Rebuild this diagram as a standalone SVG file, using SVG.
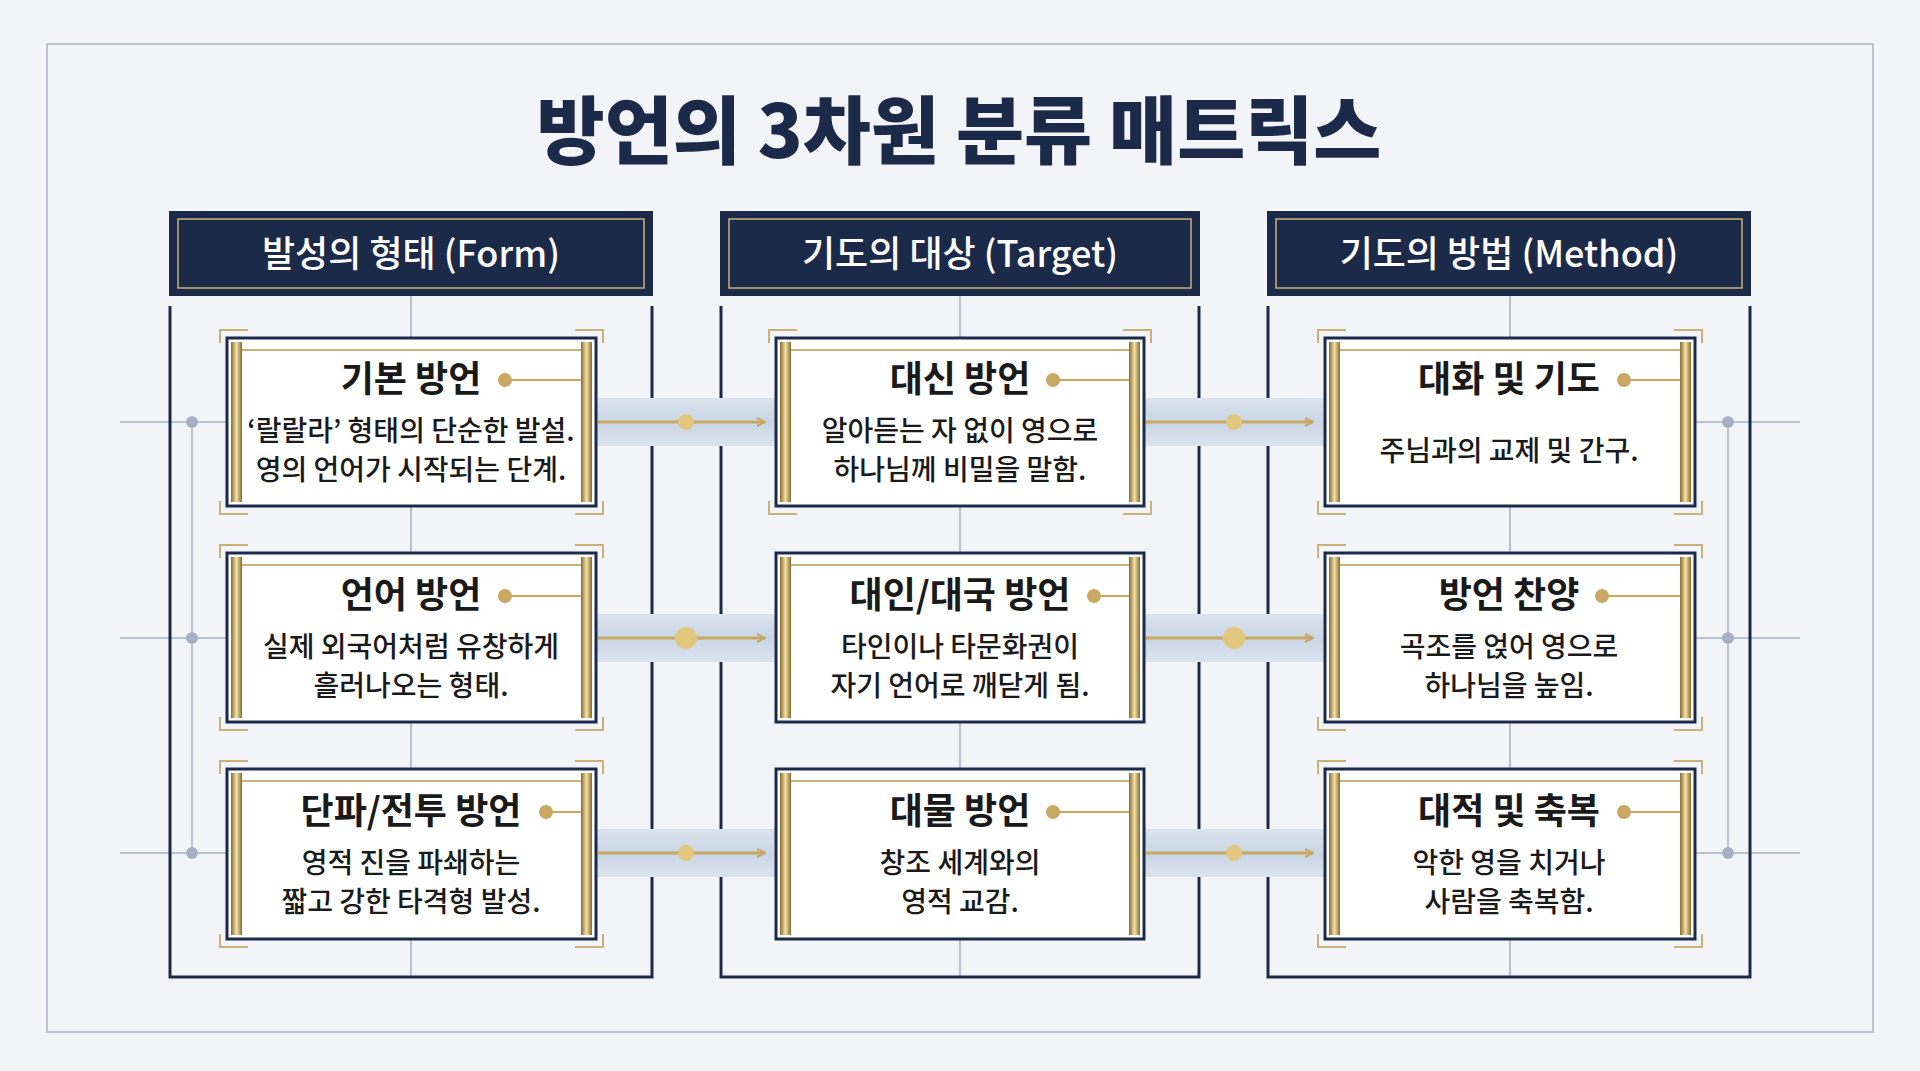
<svg xmlns="http://www.w3.org/2000/svg" width="1920" height="1071" viewBox="0 0 1920 1071">
<defs>
<linearGradient id="gold" x1="0" y1="0" x2="1" y2="0">
<stop offset="0" stop-color="#8a6a2c"/><stop offset="0.5" stop-color="#f3e2a8"/><stop offset="1" stop-color="#8a6a2c"/>
</linearGradient>
<linearGradient id="band" x1="0" y1="0" x2="0" y2="1">
<stop offset="0" stop-color="#dbe4ee"/><stop offset="0.5" stop-color="#c9d6e4"/><stop offset="1" stop-color="#dbe4ee"/>
</linearGradient>
<marker id="ah" markerWidth="10" markerHeight="10" refX="9" refY="5" orient="auto" markerUnits="userSpaceOnUse"><path d="M1,1 L9,5 L1,9" fill="none" stroke="#c9a864" stroke-width="2"/></marker>
</defs>
<style>
.hd{fill:#1c2a4a}
.hdi{fill:none;stroke:#c9b27a;stroke-width:1.5}
.ht{font-family:"Noto Sans CJK KR","Noto Sans",sans-serif;font-size:36px;fill:#fff;text-anchor:middle;font-weight:500}
.pl{fill:none;stroke:#1c2a4a;stroke-width:3}
.card{fill:#fff;stroke:#1c2a4a;stroke-width:3}
.ct{font-family:"Noto Sans CJK KR","Noto Sans",sans-serif;font-size:36px;font-weight:700;fill:#1a1a1a;text-anchor:middle}
.cd{font-family:"Noto Sans CJK KR","Noto Sans",sans-serif;font-size:28px;font-weight:500;fill:#1a1a1a;text-anchor:middle}
.br{fill:none;stroke:#c9b27a;stroke-width:2}
.gl{stroke:#a5b1c2;stroke-width:1.5}
</style>
<rect width="1920" height="1071" fill="#f2f4f7"/>
<rect x="47" y="44" width="1826" height="988" fill="none" stroke="#b9c2cd" stroke-width="2"/>
<text x="959" y="158" font-family="Noto Sans CJK KR,Noto Sans,sans-serif" font-size="74" font-weight="900" fill="#1c2a4a" text-anchor="middle">방언의 3차원 분류 매트릭스</text>

<g id="guides">
<line class="gl" x1="120" y1="422" x2="230" y2="422"/><line class="gl" x1="120" y1="638" x2="230" y2="638"/><line class="gl" x1="120" y1="853" x2="230" y2="853"/>
<line class="gl" x1="192" y1="422" x2="192" y2="853"/>
<circle cx="192" cy="422" r="6" fill="#a5b1c2"/><circle cx="192" cy="638" r="6" fill="#a5b1c2"/><circle cx="192" cy="853" r="6" fill="#a5b1c2"/>
<line class="gl" x1="1695" y1="422" x2="1800" y2="422"/><line class="gl" x1="1695" y1="638" x2="1800" y2="638"/><line class="gl" x1="1695" y1="853" x2="1800" y2="853"/>
<line class="gl" x1="1728" y1="422" x2="1728" y2="853"/>
<circle cx="1728" cy="422" r="6" fill="#a5b1c2"/><circle cx="1728" cy="638" r="6" fill="#a5b1c2"/><circle cx="1728" cy="853" r="6" fill="#a5b1c2"/>
<line class="gl" x1="411" y1="296" x2="411" y2="977"/><line class="gl" x1="960" y1="296" x2="960" y2="977"/><line class="gl" x1="1510" y1="296" x2="1510" y2="977"/>
</g>

<g id="col1"><rect class="hd" x="169" y="211" width="484" height="85"/><rect class="hdi" x="178" y="219" width="466" height="69"/><text class="ht" x="411" y="267">발성의 형태 (Form)</text><path class="pl" d="M170,306 V977 H652 V306"/></g>
<g id="col2"><rect class="hd" x="720" y="211" width="480" height="85"/><rect class="hdi" x="729" y="219" width="462" height="69"/><text class="ht" x="960" y="267">기도의 대상 (Target)</text><path class="pl" d="M721,306 V977 H1199 V306"/></g>
<g id="col3"><rect class="hd" x="1267" y="211" width="484" height="85"/><rect class="hdi" x="1276" y="219" width="466" height="69"/><text class="ht" x="1509" y="267">기도의 방법 (Method)</text><path class="pl" d="M1268,306 V977 H1750 V306"/></g>

<g id="connectors">
<rect x="596" y="398" width="180" height="48" fill="url(#band)"/><rect x="596" y="614" width="180" height="48" fill="url(#band)"/><rect x="596" y="829" width="180" height="48" fill="url(#band)"/>
<rect x="1144" y="398" width="181" height="48" fill="url(#band)"/><rect x="1144" y="614" width="181" height="48" fill="url(#band)"/><rect x="1144" y="829" width="181" height="48" fill="url(#band)"/>
<g stroke="#c9a864" stroke-width="3" marker-end="url(#ah)">
<line x1="598" y1="422" x2="765" y2="422"/><line x1="598" y1="638" x2="765" y2="638"/><line x1="598" y1="853" x2="765" y2="853"/>
<line x1="1146" y1="422" x2="1313" y2="422"/><line x1="1146" y1="638" x2="1313" y2="638"/><line x1="1146" y1="853" x2="1313" y2="853"/>
</g>
<g fill="#e3c77e"><circle cx="686" cy="422" r="8"/><circle cx="686" cy="638" r="11"/><circle cx="686" cy="853" r="8"/><circle cx="1234" cy="422" r="8"/><circle cx="1234" cy="638" r="11"/><circle cx="1234" cy="853" r="8"/></g>
</g>

<g id="cards">
<g id="c11"><rect class="card" x="227" y="338" width="369" height="168"/><rect x="231" y="342" width="11" height="160" fill="url(#gold)"/><rect x="581" y="342" width="11" height="160" fill="url(#gold)"/><path class="br" d="M220,343 V330 H248 M575,330 H603 V343 M220,501 V514 H248 M575,514 H603 V501"/><line x1="242" y1="350" x2="581" y2="350" stroke="#c9b27a" stroke-width="2"/>
<text class="ct" x="411" y="392">기본 방언</text><circle cx="505" cy="380" r="7" fill="#c9a864"/><line x1="505" y1="380" x2="581" y2="380" stroke="#c9a864" stroke-width="2"/>
<text class="cd" x="411" y="441">‘랄랄라’ 형태의 단순한 발설.</text><text class="cd" x="411" y="480">영의 언어가 시작되는 단계.</text></g>
<g id="c21"><rect class="card" x="227" y="553" width="369" height="169"/><rect x="231" y="557" width="11" height="161" fill="url(#gold)"/><rect x="581" y="557" width="11" height="161" fill="url(#gold)"/><path class="br" d="M220,558 V545 H248 M575,545 H603 V558 M220,717 V730 H248 M575,730 H603 V717"/><line x1="242" y1="565" x2="581" y2="565" stroke="#c9b27a" stroke-width="2"/>
<text class="ct" x="411" y="608">언어 방언</text><circle cx="505" cy="596" r="7" fill="#c9a864"/><line x1="505" y1="596" x2="581" y2="596" stroke="#c9a864" stroke-width="2"/>
<text class="cd" x="411" y="657">실제 외국어처럼 유창하게</text><text class="cd" x="411" y="696">흘러나오는 형태.</text></g>
<g id="c31"><rect class="card" x="227" y="769" width="369" height="170"/><rect x="231" y="773" width="11" height="162" fill="url(#gold)"/><rect x="581" y="773" width="11" height="162" fill="url(#gold)"/><path class="br" d="M220,774 V761 H248 M575,761 H603 V774 M220,934 V947 H248 M575,947 H603 V934"/><line x1="242" y1="781" x2="581" y2="781" stroke="#c9b27a" stroke-width="2"/>
<text class="ct" x="411" y="824">단파/전투 방언</text><circle cx="546" cy="812" r="7" fill="#c9a864"/><line x1="546" y1="812" x2="581" y2="812" stroke="#c9a864" stroke-width="2"/>
<text class="cd" x="411" y="873">영적 진을 파쇄하는</text><text class="cd" x="411" y="912">짧고 강한 타격형 발성.</text></g>

<g id="c12"><rect class="card" x="776" y="338" width="368" height="168"/><rect x="780" y="342" width="11" height="160" fill="url(#gold)"/><rect x="1129" y="342" width="11" height="160" fill="url(#gold)"/><path class="br" d="M769,343 V330 H797 M1123,330 H1151 V343 M769,501 V514 H797 M1123,514 H1151 V501"/><line x1="791" y1="350" x2="1129" y2="350" stroke="#c9b27a" stroke-width="2"/>
<text class="ct" x="960" y="392">대신 방언</text><circle cx="1053" cy="380" r="7" fill="#c9a864"/><line x1="1053" y1="380" x2="1129" y2="380" stroke="#c9a864" stroke-width="2"/>
<text class="cd" x="960" y="441">알아듣는 자 없이 영으로</text><text class="cd" x="960" y="480">하나님께 비밀을 말함.</text></g>
<g id="c22"><rect class="card" x="776" y="553" width="368" height="169"/><rect x="780" y="557" width="11" height="161" fill="url(#gold)"/><rect x="1129" y="557" width="11" height="161" fill="url(#gold)"/><line x1="791" y1="565" x2="1129" y2="565" stroke="#c9b27a" stroke-width="2"/>
<text class="ct" x="960" y="608">대인/대국 방언</text><circle cx="1094" cy="596" r="7" fill="#c9a864"/><line x1="1094" y1="596" x2="1129" y2="596" stroke="#c9a864" stroke-width="2"/>
<text class="cd" x="960" y="657">타인이나 타문화권이</text><text class="cd" x="960" y="696">자기 언어로 깨닫게 됨.</text></g>
<g id="c32"><rect class="card" x="776" y="769" width="368" height="170"/><rect x="780" y="773" width="11" height="162" fill="url(#gold)"/><rect x="1129" y="773" width="11" height="162" fill="url(#gold)"/><line x1="791" y1="781" x2="1129" y2="781" stroke="#c9b27a" stroke-width="2"/>
<text class="ct" x="960" y="824">대물 방언</text><circle cx="1053" cy="812" r="7" fill="#c9a864"/><line x1="1053" y1="812" x2="1129" y2="812" stroke="#c9a864" stroke-width="2"/>
<text class="cd" x="960" y="873">창조 세계와의</text><text class="cd" x="960" y="912">영적 교감.</text></g>

<g id="c13"><rect class="card" x="1325" y="338" width="370" height="168"/><rect x="1329" y="342" width="11" height="160" fill="url(#gold)"/><rect x="1680" y="342" width="11" height="160" fill="url(#gold)"/><path class="br" d="M1318,343 V330 H1346 M1674,330 H1702 V343 M1318,501 V514 H1346 M1674,514 H1702 V501"/><line x1="1340" y1="350" x2="1680" y2="350" stroke="#c9b27a" stroke-width="2"/>
<text class="ct" x="1509" y="392">대화 및 기도</text><circle cx="1624" cy="380" r="7" fill="#c9a864"/><line x1="1624" y1="380" x2="1680" y2="380" stroke="#c9a864" stroke-width="2"/>
<text class="cd" x="1509" y="461">주님과의 교제 및 간구.</text></g>
<g id="c23"><rect class="card" x="1325" y="553" width="370" height="169"/><rect x="1329" y="557" width="11" height="161" fill="url(#gold)"/><rect x="1680" y="557" width="11" height="161" fill="url(#gold)"/><path class="br" d="M1318,558 V545 H1346 M1674,545 H1702 V558 M1318,717 V730 H1346 M1674,730 H1702 V717"/><line x1="1340" y1="565" x2="1680" y2="565" stroke="#c9b27a" stroke-width="2"/>
<text class="ct" x="1509" y="608">방언 찬양</text><circle cx="1602" cy="596" r="7" fill="#c9a864"/><line x1="1602" y1="596" x2="1680" y2="596" stroke="#c9a864" stroke-width="2"/>
<text class="cd" x="1509" y="657">곡조를 얹어 영으로</text><text class="cd" x="1509" y="696">하나님을 높임.</text></g>
<g id="c33"><rect class="card" x="1325" y="769" width="370" height="170"/><rect x="1329" y="773" width="11" height="162" fill="url(#gold)"/><rect x="1680" y="773" width="11" height="162" fill="url(#gold)"/><path class="br" d="M1318,774 V761 H1346 M1674,761 H1702 V774 M1318,934 V947 H1346 M1674,947 H1702 V934"/><line x1="1340" y1="781" x2="1680" y2="781" stroke="#c9b27a" stroke-width="2"/>
<text class="ct" x="1509" y="824">대적 및 축복</text><circle cx="1624" cy="812" r="7" fill="#c9a864"/><line x1="1624" y1="812" x2="1680" y2="812" stroke="#c9a864" stroke-width="2"/>
<text class="cd" x="1509" y="873">악한 영을 치거나</text><text class="cd" x="1509" y="912">사람을 축복함.</text></g>
</g>
</svg>
